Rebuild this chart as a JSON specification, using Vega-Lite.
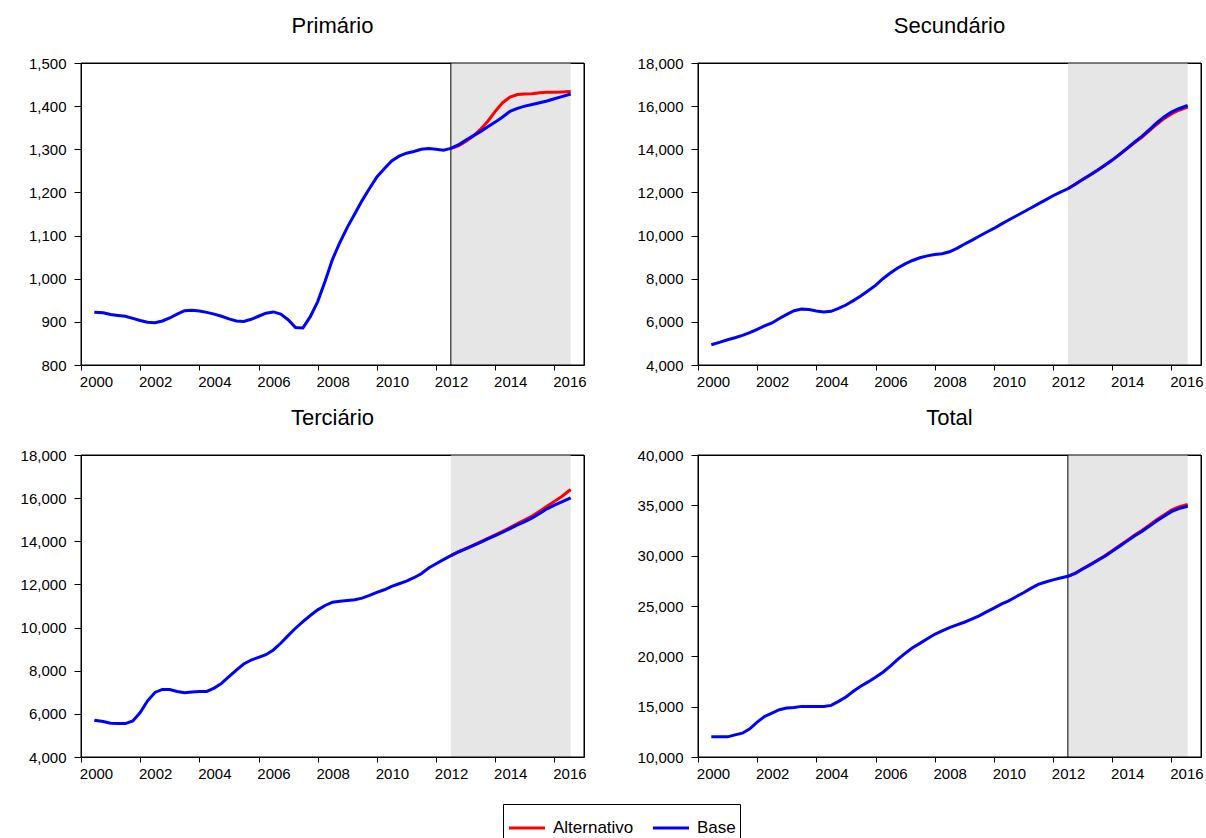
{
"$schema": "https://vega.github.io/schema/vega-lite/v6.json",
"background": "white",
"padding": {"left": 19, "top": 14, "right": 5, "bottom": 5},
"datasets": {
"d": [
{"t":2000.45,"s":"Base","P":922,"S":4940,"T":5705,"G":12000},
{"t":2000.75,"s":"Base","P":921,"S":5060,"T":5643,"G":12000},
{"t":2001.0,"s":"Base","P":917,"S":5170,"T":5566,"G":12000},
{"t":2001.25,"s":"Base","P":915,"S":5265,"T":5550,"G":12198},
{"t":2001.5,"s":"Base","P":913,"S":5375,"T":5550,"G":12364},
{"t":2001.75,"s":"Base","P":908,"S":5500,"T":5674,"G":12797},
{"t":2002.0,"s":"Base","P":903,"S":5655,"T":6062,"G":13463},
{"t":2002.25,"s":"Base","P":899,"S":5810,"T":6605,"G":14029},
{"t":2002.5,"s":"Base","P":898,"S":5950,"T":6992,"G":14362},
{"t":2002.75,"s":"Base","P":902,"S":6155,"T":7132,"G":14695},
{"t":2003.0,"s":"Base","P":909,"S":6345,"T":7132,"G":14862},
{"t":2003.25,"s":"Base","P":918,"S":6515,"T":7039,"G":14928},
{"t":2003.5,"s":"Base","P":926,"S":6590,"T":6977,"G":15028},
{"t":2003.75,"s":"Base","P":927,"S":6570,"T":7008,"G":15028},
{"t":2004.0,"s":"Base","P":925,"S":6500,"T":7039,"G":15028},
{"t":2004.25,"s":"Base","P":922,"S":6460,"T":7039,"G":15028},
{"t":2004.5,"s":"Base","P":918,"S":6490,"T":7194,"G":15128},
{"t":2004.75,"s":"Base","P":913,"S":6625,"T":7411,"G":15528},
{"t":2005.0,"s":"Base","P":907,"S":6780,"T":7721,"G":15961},
{"t":2005.25,"s":"Base","P":902,"S":6985,"T":8031,"G":16527},
{"t":2005.5,"s":"Base","P":901,"S":7200,"T":8310,"G":17026},
{"t":2005.75,"s":"Base","P":906,"S":7440,"T":8496,"G":17459},
{"t":2006.0,"s":"Base","P":913,"S":7690,"T":8620,"G":17925},
{"t":2006.25,"s":"Base","P":920,"S":8000,"T":8744,"G":18425},
{"t":2006.5,"s":"Base","P":923,"S":8265,"T":8961,"G":19024},
{"t":2006.75,"s":"Base","P":918,"S":8500,"T":9271,"G":19690},
{"t":2007.0,"s":"Base","P":905,"S":8690,"T":9628,"G":20290},
{"t":2007.25,"s":"Base","P":887,"S":8845,"T":9969,"G":20856},
{"t":2007.5,"s":"Base","P":886,"S":8970,"T":10279,"G":21289},
{"t":2007.75,"s":"Base","P":912,"S":9060,"T":10558,"G":21755},
{"t":2008.0,"s":"Base","P":947,"S":9125,"T":10822,"G":22188},
{"t":2008.25,"s":"Base","P":994,"S":9155,"T":11023,"G":22521},
{"t":2008.5,"s":"Base","P":1045,"S":9250,"T":11178,"G":22854},
{"t":2008.75,"s":"Base","P":1084,"S":9405,"T":11225,"G":23120},
{"t":2009.0,"s":"Base","P":1119,"S":9595,"T":11256,"G":23387},
{"t":2009.25,"s":"Base","P":1150,"S":9780,"T":11287,"G":23686},
{"t":2009.5,"s":"Base","P":1181,"S":9970,"T":11364,"G":24019},
{"t":2009.75,"s":"Base","P":1209,"S":10155,"T":11488,"G":24419},
{"t":2010.0,"s":"Base","P":1236,"S":10330,"T":11628,"G":24785},
{"t":2010.25,"s":"Base","P":1255,"S":10530,"T":11752,"G":25185},
{"t":2010.5,"s":"Base","P":1273,"S":10720,"T":11907,"G":25518},
{"t":2010.75,"s":"Base","P":1284,"S":10905,"T":12031,"G":25918},
{"t":2011.0,"s":"Base","P":1291,"S":11095,"T":12155,"G":26317},
{"t":2011.25,"s":"Base","P":1295,"S":11280,"T":12310,"G":26750},
{"t":2011.5,"s":"Base","P":1300,"S":11470,"T":12496,"G":27150},
{"t":2011.75,"s":"Base","P":1302,"S":11655,"T":12760,"G":27380},
{"t":2012.0,"s":"Base","P":1300,"S":11845,"T":12961,"G":27600},
{"t":2012.25,"s":"Base","P":1298,"S":12015,"T":13147,"G":27780},
{"t":2012.5,"s":"Base","P":1302,"S":12170,"T":13333,"G":27950},
{"t":2012.75,"s":"Base","P":1310,"S":12375,"T":13504,"G":28249},
{"t":2013.0,"s":"Base","P":1321,"S":12595,"T":13643,"G":28682},
{"t":2013.25,"s":"Base","P":1331,"S":12810,"T":13798,"G":29081},
{"t":2013.5,"s":"Base","P":1341,"S":13030,"T":13953,"G":29514},
{"t":2013.75,"s":"Base","P":1352,"S":13265,"T":14109,"G":29947},
{"t":2014.0,"s":"Base","P":1363,"S":13500,"T":14264,"G":30446},
{"t":2014.25,"s":"Base","P":1375,"S":13765,"T":14419,"G":30946},
{"t":2014.5,"s":"Base","P":1388,"S":14045,"T":14589,"G":31445},
{"t":2014.75,"s":"Base","P":1395,"S":14330,"T":14760,"G":31945},
{"t":2015.0,"s":"Base","P":1400,"S":14595,"T":14915,"G":32411},
{"t":2015.25,"s":"Base","P":1404,"S":14905,"T":15085,"G":32911},
{"t":2015.5,"s":"Base","P":1408,"S":15220,"T":15287,"G":33444},
{"t":2015.75,"s":"Base","P":1412,"S":15500,"T":15504,"G":33910},
{"t":2016.0,"s":"Base","P":1417,"S":15720,"T":15674,"G":34376},
{"t":2016.25,"s":"Base","P":1422,"S":15880,"T":15829,"G":34676},
{"t":2016.55,"s":"Base","P":1428,"S":16030,"T":16015,"G":34909},
{"t":2012.5,"s":"Alternativo","P":1302,"S":12170,"T":13333,"G":27950},
{"t":2012.75,"s":"Alternativo","P":1308,"S":12375,"T":13510,"G":28260},
{"t":2013.0,"s":"Alternativo","P":1318,"S":12595,"T":13660,"G":28700},
{"t":2013.25,"s":"Alternativo","P":1330,"S":12810,"T":13815,"G":29110},
{"t":2013.5,"s":"Alternativo","P":1346,"S":13030,"T":13975,"G":29550},
{"t":2013.75,"s":"Alternativo","P":1365,"S":13265,"T":14135,"G":29990},
{"t":2014.0,"s":"Alternativo","P":1388,"S":13500,"T":14300,"G":30500},
{"t":2014.25,"s":"Alternativo","P":1408,"S":13760,"T":14465,"G":31010},
{"t":2014.5,"s":"Alternativo","P":1421,"S":14030,"T":14640,"G":31520},
{"t":2014.75,"s":"Alternativo","P":1427,"S":14300,"T":14815,"G":32030},
{"t":2015.0,"s":"Alternativo","P":1428,"S":14550,"T":14990,"G":32510},
{"t":2015.25,"s":"Alternativo","P":1429,"S":14850,"T":15170,"G":33020},
{"t":2015.5,"s":"Alternativo","P":1431,"S":15150,"T":15390,"G":33560},
{"t":2015.75,"s":"Alternativo","P":1432,"S":15420,"T":15620,"G":34040},
{"t":2016.0,"s":"Alternativo","P":1432,"S":15640,"T":15850,"G":34520},
{"t":2016.25,"s":"Alternativo","P":1433,"S":15810,"T":16080,"G":34840},
{"t":2016.55,"s":"Alternativo","P":1434,"S":15960,"T":16400,"G":35100}
],
"shade": [{"a": 2012.5, "b": 2016.55}],
"one": [{"k": 1}]
},
"columns": 2,
"spacing": {"row": 90, "column": 114},
"bounds": "flush",
"resolve": {"scale": {"color": "shared"}, "legend": {"color": "shared"}},
"concat": [
{
"width": 503, "height": 302, "title": "Primário",
"layer": [
{"data": {"name": "shade"}, "mark": {"type": "rect", "color": "#e6e6e6"},
 "encoding": {"x": {"field": "a", "type": "quantitative", "scale": {"domain": [2000, 2017], "nice": false, "zero": false},
   "axis": {"values": [2000,2001,2002,2003,2004,2005,2006,2007,2008,2009,2010,2011,2012,2013,2014,2015,2016,2017], "labelExpr": "datum.value % 2 == 0 && datum.value < 2017 ? '' + datum.value : ''", "labelOffset": 15}},
  "x2": {"field": "b"}}},
{"data": {"name": "shade"}, "mark": {"type": "rule", "color": "black", "strokeWidth": 1},
 "encoding": {"x": {"field": "a", "type": "quantitative"}}},
{"data": {"name": "d"}, "transform": [{"filter": "datum.s == 'Alternativo'"}], "mark": {"type": "line", "strokeWidth": 3},
 "encoding": {"x": {"field": "t", "type": "quantitative"},
  "y": {"field": "P", "type": "quantitative", "scale": {"domain": [800, 1500], "nice": false, "zero": false},
   "axis": {"values": [800,900,1000,1100,1200,1300,1400,1500], "format": ",.0f"}},
  "color": {"field": "s", "type": "nominal", "scale": {"domain": ["Alternativo", "Base"], "range": ["#ff0000", "#0000ff"]},
   "legend": {"orient": "none", "legendX": 422, "legendY": 741, "direction": "horizontal", "title": null}}}},
{"data": {"name": "d"}, "transform": [{"filter": "datum.s == 'Base'"}], "mark": {"type": "line", "strokeWidth": 3},
 "encoding": {"x": {"field": "t", "type": "quantitative"},
  "y": {"field": "P", "type": "quantitative"},
  "color": {"field": "s", "type": "nominal"}}},
{"data": {"name": "one"}, "mark": {"type": "rect", "filled": false, "stroke": "black", "strokeWidth": 1},
 "encoding": {"x": {"datum": 2000, "type": "quantitative"}, "x2": {"datum": 2017}, "y": {"datum": 800, "type": "quantitative"}, "y2": {"datum": 1500}}}
]
},
{
"width": 503, "height": 302, "title": "Secundário",
"layer": [
{"data": {"name": "shade"}, "mark": {"type": "rect", "color": "#e6e6e6"},
 "encoding": {"x": {"field": "a", "type": "quantitative", "scale": {"domain": [2000, 2017], "nice": false, "zero": false},
   "axis": {"values": [2000,2001,2002,2003,2004,2005,2006,2007,2008,2009,2010,2011,2012,2013,2014,2015,2016,2017], "labelExpr": "datum.value % 2 == 0 && datum.value < 2017 ? '' + datum.value : ''", "labelOffset": 15}},
  "x2": {"field": "b"}}},
{"data": {"name": "d"}, "transform": [{"filter": "datum.s == 'Alternativo'"}], "mark": {"type": "line", "strokeWidth": 3},
 "encoding": {"x": {"field": "t", "type": "quantitative"},
  "y": {"field": "S", "type": "quantitative", "scale": {"domain": [4000, 18000], "nice": false, "zero": false},
   "axis": {"values": [4000,6000,8000,10000,12000,14000,16000,18000], "format": ",.0f"}},
  "color": {"field": "s", "type": "nominal", "scale": {"domain": ["Alternativo", "Base"], "range": ["#ff0000", "#0000ff"]},
   "legend": {"orient": "none", "legendX": 422, "legendY": 741, "direction": "horizontal", "title": null}}}},
{"data": {"name": "d"}, "transform": [{"filter": "datum.s == 'Base'"}], "mark": {"type": "line", "strokeWidth": 3},
 "encoding": {"x": {"field": "t", "type": "quantitative"},
  "y": {"field": "S", "type": "quantitative"},
  "color": {"field": "s", "type": "nominal"}}},
{"data": {"name": "one"}, "mark": {"type": "rect", "filled": false, "stroke": "black", "strokeWidth": 1},
 "encoding": {"x": {"datum": 2000, "type": "quantitative"}, "x2": {"datum": 2017}, "y": {"datum": 4000, "type": "quantitative"}, "y2": {"datum": 18000}}}
]
},
{
"width": 503, "height": 302, "title": "Terciário",
"layer": [
{"data": {"name": "shade"}, "mark": {"type": "rect", "color": "#e6e6e6"},
 "encoding": {"x": {"field": "a", "type": "quantitative", "scale": {"domain": [2000, 2017], "nice": false, "zero": false},
   "axis": {"values": [2000,2001,2002,2003,2004,2005,2006,2007,2008,2009,2010,2011,2012,2013,2014,2015,2016,2017], "labelExpr": "datum.value % 2 == 0 && datum.value < 2017 ? '' + datum.value : ''", "labelOffset": 15}},
  "x2": {"field": "b"}}},
{"data": {"name": "d"}, "transform": [{"filter": "datum.s == 'Alternativo'"}], "mark": {"type": "line", "strokeWidth": 3},
 "encoding": {"x": {"field": "t", "type": "quantitative"},
  "y": {"field": "T", "type": "quantitative", "scale": {"domain": [4000, 18000], "nice": false, "zero": false},
   "axis": {"values": [4000,6000,8000,10000,12000,14000,16000,18000], "format": ",.0f"}},
  "color": {"field": "s", "type": "nominal", "scale": {"domain": ["Alternativo", "Base"], "range": ["#ff0000", "#0000ff"]},
   "legend": {"orient": "none", "legendX": 422, "legendY": 741, "direction": "horizontal", "title": null}}}},
{"data": {"name": "d"}, "transform": [{"filter": "datum.s == 'Base'"}], "mark": {"type": "line", "strokeWidth": 3},
 "encoding": {"x": {"field": "t", "type": "quantitative"},
  "y": {"field": "T", "type": "quantitative"},
  "color": {"field": "s", "type": "nominal"}}},
{"data": {"name": "one"}, "mark": {"type": "rect", "filled": false, "stroke": "black", "strokeWidth": 1},
 "encoding": {"x": {"datum": 2000, "type": "quantitative"}, "x2": {"datum": 2017}, "y": {"datum": 4000, "type": "quantitative"}, "y2": {"datum": 18000}}}
]
},
{
"width": 503, "height": 302, "title": "Total",
"layer": [
{"data": {"name": "shade"}, "mark": {"type": "rect", "color": "#e6e6e6"},
 "encoding": {"x": {"field": "a", "type": "quantitative", "scale": {"domain": [2000, 2017], "nice": false, "zero": false},
   "axis": {"values": [2000,2001,2002,2003,2004,2005,2006,2007,2008,2009,2010,2011,2012,2013,2014,2015,2016,2017], "labelExpr": "datum.value % 2 == 0 && datum.value < 2017 ? '' + datum.value : ''", "labelOffset": 15}},
  "x2": {"field": "b"}}},
{"data": {"name": "shade"}, "mark": {"type": "rule", "color": "black", "strokeWidth": 1},
 "encoding": {"x": {"field": "a", "type": "quantitative"}}},
{"data": {"name": "d"}, "transform": [{"filter": "datum.s == 'Alternativo'"}], "mark": {"type": "line", "strokeWidth": 3},
 "encoding": {"x": {"field": "t", "type": "quantitative"},
  "y": {"field": "G", "type": "quantitative", "scale": {"domain": [10000, 40000], "nice": false, "zero": false},
   "axis": {"values": [10000,15000,20000,25000,30000,35000,40000], "format": ",.0f"}},
  "color": {"field": "s", "type": "nominal", "scale": {"domain": ["Alternativo", "Base"], "range": ["#ff0000", "#0000ff"]},
   "legend": {"orient": "none", "legendX": 422, "legendY": 741, "direction": "horizontal", "title": null}}}},
{"data": {"name": "d"}, "transform": [{"filter": "datum.s == 'Base'"}], "mark": {"type": "line", "strokeWidth": 3},
 "encoding": {"x": {"field": "t", "type": "quantitative"},
  "y": {"field": "G", "type": "quantitative"},
  "color": {"field": "s", "type": "nominal"}}},
{"data": {"name": "one"}, "mark": {"type": "rect", "filled": false, "stroke": "black", "strokeWidth": 1},
 "encoding": {"x": {"datum": 2000, "type": "quantitative"}, "x2": {"datum": 2017}, "y": {"datum": 10000, "type": "quantitative"}, "y2": {"datum": 40000}}}
]
}
],
"config": {
"font": "Liberation Sans",
"view": {"stroke": "black", "strokeWidth": 1},
"axis": {"grid": false, "domain": false, "title": null, "tickColor": "black", "labelColor": "black", "labelFont": "Liberation Sans", "labelFontSize": 15, "labelOverlap": false, "labelFlush": false, "labelBound": false},
"axisX": {"tickSize": 5, "labelPadding": 4},
"axisY": {"tickSize": 7, "labelPadding": 8},
"title": {"font": "Liberation Sans", "fontSize": 22, "fontWeight": "normal", "color": "black", "frame": "group", "anchor": "middle", "offset": 18},
"legend": {"strokeColor": "black", "padding": 4, "symbolType": "stroke", "symbolStrokeWidth": 3, "symbolSize": 1300, "labelFont": "Liberation Sans", "labelFontSize": 17, "labelColor": "black", "labelOffset": 6, "columnPadding": 12, "symbolOpacity": 1}
}
}
